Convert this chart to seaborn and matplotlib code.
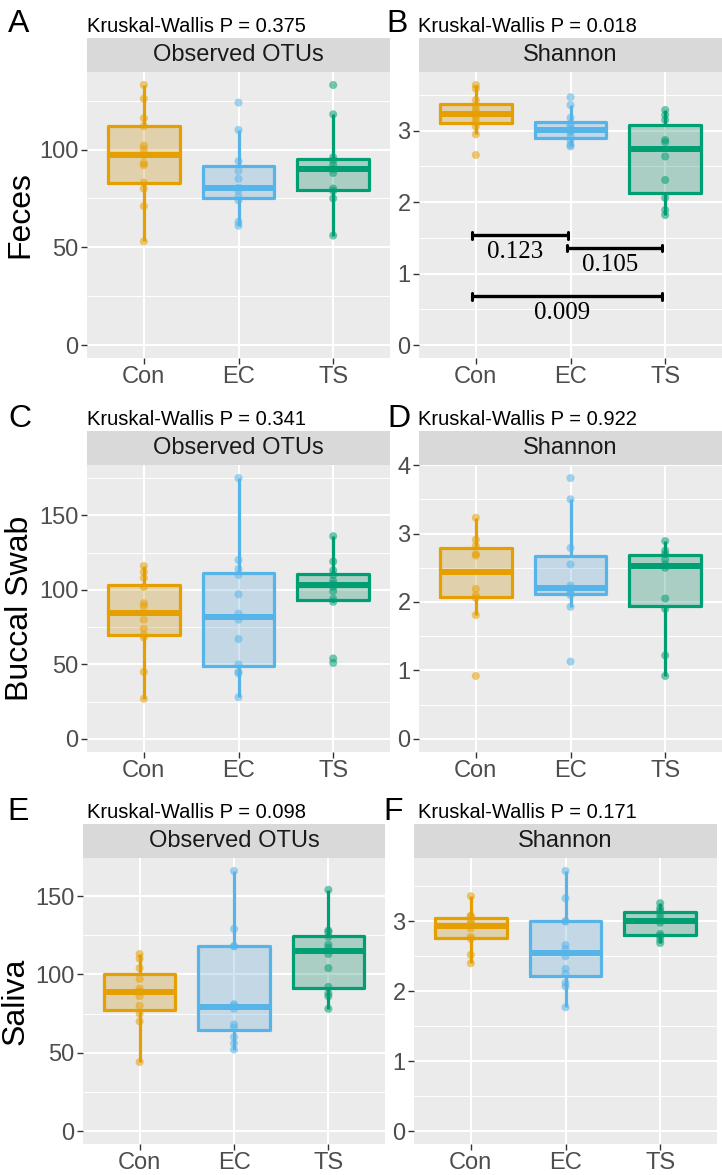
import numpy as np
import pandas as pd
import matplotlib
matplotlib.use("Agg")
import matplotlib.pyplot as plt
import seaborn as sns
from matplotlib.colors import to_rgba

# groups and colours
groups = ["Con", "EC", "TS"]
palette = {"Con": "#E69F00", "EC": "#56B4E9", "TS": "#009E73"}

sites = ["Feces", "Buccal Swab", "Saliva"]
metrics = ["Observed OTUs", "Shannon"]
panel_letters = ["A", "B", "C", "D", "E", "F"]
kw_pvalues = ["0.375", "0.018", "0.341", "0.922", "0.098", "0.171"]

# values
feces_otus_con = [53, 71, 80, 83, 92, 93, 97, 100, 102, 112, 116, 126, 133]
feces_otus_ec = [61, 63, 74, 76, 79, 80.5, 85, 89, 94, 110, 124]
feces_otus_ts = [56, 75, 78.8, 80, 88, 90, 92, 94.4, 96, 118, 133]

feces_shannon_con = [2.66, 2.95, 3.06, 3.12, 3.18, 3.22, 3.25, 3.29, 3.35, 3.43, 3.59, 3.64]
feces_shannon_ec = [2.78, 2.80, 2.86, 2.92, 2.98, 3.00, 3.02, 3.06, 3.10, 3.18, 3.36, 3.47]
feces_shannon_ts = [1.82, 1.89, 2.06, 2.31, 2.64, 2.84, 2.87, 3.15, 3.22, 3.29]

buccal_otus_con = [27, 45, 68, 70, 74, 80, 89, 91, 102, 108, 112, 116]
buccal_otus_ec = [28, 44, 45, 50, 67, 80, 84, 97, 110, 114, 120, 175]
buccal_otus_ts = [51, 54, 92, 94, 99, 102, 104, 106, 110, 113, 119, 136]

buccal_shannon_con = [0.92, 1.81, 2.06, 2.10, 2.19, 2.68, 2.70, 2.82, 2.91, 3.23]
buccal_shannon_ec = [1.13, 1.93, 2.10, 2.13, 2.17, 2.20, 2.24, 2.55, 2.79, 3.50, 3.81]
buccal_shannon_ts = [0.92, 1.22, 1.90, 2.05, 2.50, 2.55, 2.62, 2.70, 2.75, 2.89]

saliva_otus_con = [44, 70, 75, 80, 86, 89, 91, 97, 104, 110, 113]
saliva_otus_ec = [52, 56, 60, 66, 68, 78, 80, 81, 118, 118, 129, 166]
saliva_otus_ts = [78, 86, 88, 92, 104, 113, 117, 119, 124, 127, 128, 154]

saliva_shannon_con = [2.40, 2.52, 2.75, 2.78, 2.90, 2.96, 3.00, 3.07, 3.08, 3.36]
saliva_shannon_ec = [1.77, 2.07, 2.12, 2.25, 2.32, 2.50, 2.60, 2.66, 3.00, 3.00, 3.33, 3.72]
saliva_shannon_ts = [2.69, 2.74, 2.79, 2.82, 2.98, 3.04, 3.10, 3.15, 3.19, 3.26]

otu_ticks = [0, 50, 100, 150]
shannon_ticks = [0, 1, 2, 3, 4]

# pairwise tests shown in panel B
pair_groups = [(0, 1), (1, 2), (0, 2)]
pair_pvalues = ["0.123", "0.105", "0.009"]
pair_heights = [1.54, 1.36, 0.685]

panels = [
    [feces_otus_con, feces_otus_ec, feces_otus_ts],
    [feces_shannon_con, feces_shannon_ec, feces_shannon_ts],
    [buccal_otus_con, buccal_otus_ec, buccal_otus_ts],
    [buccal_shannon_con, buccal_shannon_ec, buccal_shannon_ts],
    [saliva_otus_con, saliva_otus_ec, saliva_otus_ts],
    [saliva_shannon_con, saliva_shannon_ec, saliva_shannon_ts],
]

sns.set_style("darkgrid", {"axes.facecolor": "#EBEBEB", "grid.color": "white"})
plt.rcParams["font.family"] = ["Liberation Sans", "DejaVu Sans"]

W, H = 722, 1175
fig = plt.figure(figsize=(W / 100, H / 100), dpi=100)


def px_axes(x0, y0, x1, y1):
    return fig.add_axes([x0 / W, 1 - y1 / H, (x1 - x0) / W, (y1 - y0) / H])


# layout in pixels: plot area, title baseline, letter position
axes_px = [(87, 72, 390, 358), (419, 72, 722, 358),
           (87, 465, 390, 752), (419, 465, 722, 752),
           (83, 858, 385, 1144), (414, 858, 717, 1144)]
title_px = [(87, 32), (418, 32), (87, 425), (418, 425), (87, 818), (418, 818)]
letter_px = [(8, 32), (386, 32), (8, 427), (387, 427), (7, 820), (383, 820)]
ylabel_px = [(20, 215), (20, 608), (16, 1001)]
strip_h = 34


def draw_panel(ax, values, ticks):
    df = pd.DataFrame({
        "group": np.repeat(groups, [len(v) for v in values]),
        "value": np.concatenate(values),
    })
    common = dict(data=df, x="group", y="value", hue="group", order=groups,
                  hue_order=groups, palette=palette, width=0.76,
                  showcaps=False, showfliers=False, whis=1.5, legend=False, ax=ax)
    # translucent box faces
    sns.boxplot(fill=True, linewidth=0, medianprops={"linewidth": 0}, **common)
    for p in ax.patches:
        p.set_facecolor(to_rgba(p.get_facecolor()[:3], 0.3))
        p.set_edgecolor("none")
    # coloured outlines, whiskers and medians
    sns.boxplot(fill=False, linewidth=2.3, medianprops={"linewidth": 4.3}, **common)
    sns.stripplot(data=df, x="group", y="value", hue="group", order=groups,
                  hue_order=groups, palette=palette, jitter=False, size=5.8,
                  alpha=0.55, linewidth=0, legend=False, zorder=3, ax=ax)

    hi = df["value"].max()
    pad = 0.05 * hi
    ax.set_xlim(-0.6, 2.6)
    ax.set_ylim(-pad, hi + pad)
    step = ticks[1] - ticks[0]
    ax.set_yticks([t for t in ticks if t <= hi + pad])
    ax.set_yticks(np.arange(step / 2, hi + pad, step), minor=True)
    ax.grid(which="major", color="white", linewidth=1.5)
    ax.grid(which="minor", color="white", linewidth=0.7)
    ax.set_axisbelow(True)
    ax.tick_params(which="minor", length=0)
    ax.tick_params(which="major", length=4, width=1, color="#333333",
                   labelsize=17, labelcolor="#4D4D4D", pad=2,
                   left=True, bottom=True)
    ax.set_xlabel("")
    ax.set_ylabel("")
    for s in ax.spines.values():
        s.set_visible(False)


for i, values in enumerate(panels):
    x0, y0, x1, y1 = axes_px[i]
    ax = px_axes(x0, y0, x1, y1)
    ticks = otu_ticks if i % 2 == 0 else shannon_ticks
    draw_panel(ax, values, ticks)

    # facet strip
    sax = px_axes(x0, y0 - strip_h, x1, y0)
    sax.set_facecolor("#D9D9D9")
    sax.set_xticks([])
    sax.set_yticks([])
    sax.grid(False)
    for s in sax.spines.values():
        s.set_visible(False)
    sax.text(0.5, 0.5, metrics[i % 2], ha="center", va="center",
             fontsize=17, color="#1A1A1A", transform=sax.transAxes)

    tx, ty = title_px[i]
    fig.text(tx / W, 1 - ty / H, "Kruskal-Wallis P = " + kw_pvalues[i],
             fontsize=14.5, ha="left", va="baseline", color="black")
    lx, ly = letter_px[i]
    fig.text(lx / W, 1 - ly / H, panel_letters[i], fontsize=23,
             ha="left", va="baseline", color="black")

    if i == 1:
        for (g1, g2), lab, yb in zip(pair_groups, pair_pvalues, pair_heights):
            xa, xb = g1 - 0.04, g2 - 0.03
            ax.plot([xa, xb], [yb, yb], color="black", lw=2.4,
                    solid_capstyle="butt", zorder=5)
            for xe in (xa, xb):
                ax.plot([xe, xe], [yb + 0.045, yb - 0.05], color="black",
                        lw=2.2, zorder=5)
            ax.text((xa + xb) / 2 - 0.05, yb - 0.24, lab, ha="center",
                    va="center", fontsize=18, family="Liberation Serif",
                    color="black", zorder=5)

for site, (yx, yy) in zip(sites, ylabel_px):
    fig.text(yx / W, 1 - yy / H, site, rotation=90, fontsize=23,
             ha="center", va="center", color="black")

fig.savefig("out.png", dpi=100, facecolor="white")
